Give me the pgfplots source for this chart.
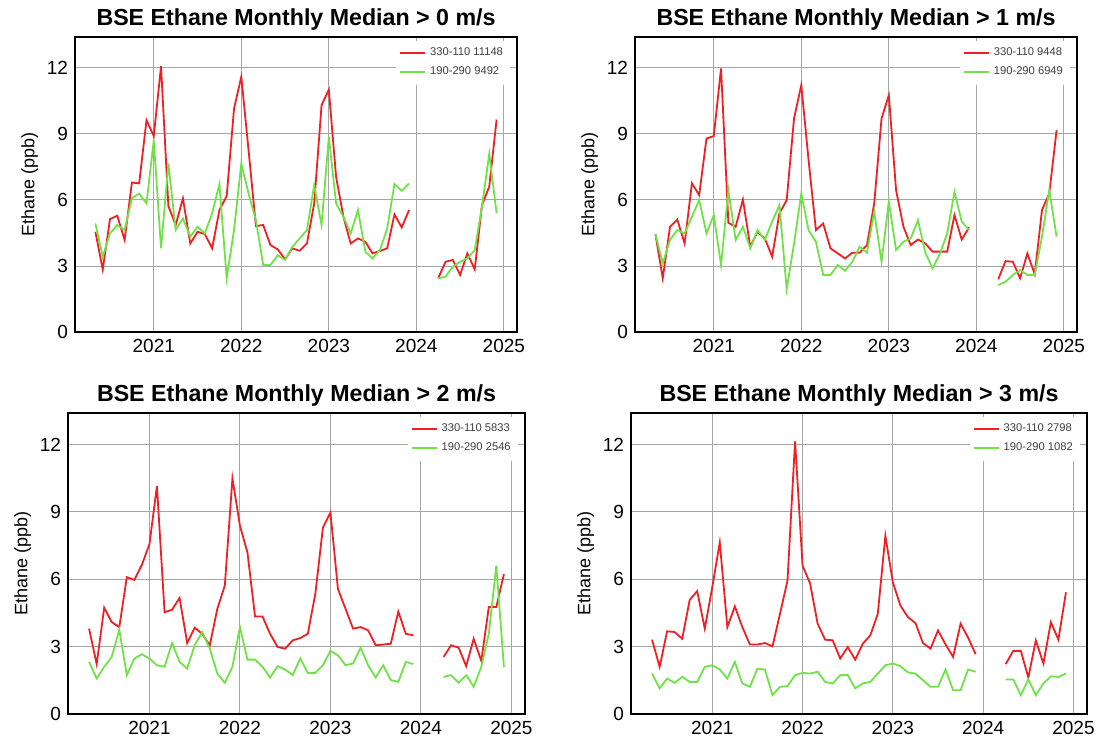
\documentclass[border=0pt]{standalone}
\usepackage{fontspec}
\setmainfont{Liberation Sans}
\usepackage{pgfplots}
\usepackage{pgfplotstable}
\pgfplotsset{compat=1.18}

\definecolor{sred}{RGB}{238,32,36}
\definecolor{sgreen}{RGB}{112,226,72}

% t = year, r = 330-110 sector, g = 190-290 sector
\pgfplotstableread{
t r g
2020.333 4.55 4.93
2020.417 2.84 3.42
2020.500 5.13 4.48
2020.583 5.28 4.86
2020.667 4.18 4.63
2020.750 6.79 6.07
2020.833 6.75 6.29
2020.917 9.62 5.84
2021.000 8.90 8.71
2021.083 12.07 3.80
2021.167 5.72 7.65
2021.250 4.86 4.63
2021.333 6.07 5.16
2021.417 4.02 4.33
2021.500 4.55 4.78
2021.583 4.45 4.48
2021.667 3.80 5.39
2021.750 5.54 6.72
2021.833 6.17 2.44
2021.917 10.15 4.63
2022.000 11.59 7.65
2022.083 8.26 6.29
2022.167 4.81 5.08
2022.250 4.86 3.04
2022.333 3.95 3.04
2022.417 3.75 3.49
2022.500 3.30 3.27
2022.583 3.80 3.87
2022.667 3.69 4.25
2022.750 4.02 4.63
2022.833 5.84 6.67
2022.917 10.30 4.86
2023.000 11.01 8.87
2023.083 7.05 5.84
2023.167 5.23 5.23
2023.250 4.02 4.48
2023.333 4.25 5.54
2023.417 4.10 3.65
2023.500 3.57 3.34
2023.583 3.68 3.72
2023.667 3.80 4.70
2023.750 5.34 6.72
2023.833 4.75 6.41
2023.917 5.54 6.75
2024.000 nan nan
2024.250 2.44 2.44
2024.333 3.19 2.51
2024.417 3.27 2.97
2024.500 2.59 3.19
2024.583 3.57 3.34
2024.667 2.84 3.72
2024.750 5.76 5.69
2024.833 6.60 8.10
2024.917 9.65 5.39
}\dataA

\pgfplotstableread{
t r g
2020.333 4.45 4.45
2020.417 2.44 3.12
2020.500 4.78 4.18
2020.583 5.11 4.63
2020.667 4.02 4.48
2020.750 6.75 5.23
2020.833 6.22 5.99
2020.917 8.79 4.48
2021.000 8.90 5.31
2021.083 11.97 3.04
2021.167 4.96 6.44
2021.250 4.78 4.18
2021.333 6.02 4.78
2021.417 3.87 3.80
2021.500 4.55 4.63
2021.583 4.25 4.18
2021.667 3.42 5.01
2021.750 5.39 5.76
2021.833 5.99 1.94
2021.917 9.70 4.02
2022.000 11.21 6.29
2022.083 7.81 4.63
2022.167 4.63 4.10
2022.250 4.93 2.59
2022.333 3.80 2.59
2022.417 3.57 3.04
2022.500 3.34 2.78
2022.583 3.60 3.19
2022.667 3.60 3.87
2022.750 3.95 3.60
2022.833 5.84 5.46
2022.917 9.70 3.19
2023.000 10.76 5.92
2023.083 6.44 3.72
2023.167 4.78 4.10
2023.250 3.95 4.25
2023.333 4.20 5.08
2023.417 4.02 3.60
2023.500 3.65 2.89
2023.583 3.65 3.54
2023.667 3.65 4.48
2023.750 5.31 6.37
2023.833 4.20 5.01
2023.917 4.75 4.63
2024.000 nan nan
2024.250 2.39 2.13
2024.333 3.22 2.28
2024.417 3.19 2.59
2024.500 2.44 2.81
2024.583 3.57 2.59
2024.667 2.63 2.59
2024.750 5.54 4.33
2024.833 6.29 6.44
2024.917 9.17 4.33
}\dataB

\pgfplotstableread{
t r g
2020.333 3.80 2.32
2020.417 2.22 1.58
2020.500 4.73 2.10
2020.583 4.09 2.54
2020.667 3.87 3.75
2020.750 6.09 1.73
2020.833 5.97 2.47
2020.917 6.65 2.66
2021.000 7.56 2.47
2021.083 10.15 2.17
2021.167 4.53 2.10
2021.250 4.64 3.16
2021.333 5.17 2.32
2021.417 3.16 2.02
2021.500 3.84 3.06
2021.583 3.57 3.65
2021.667 3.06 2.91
2021.750 4.68 1.80
2021.833 5.72 1.39
2021.917 10.49 2.10
2022.000 8.38 3.87
2022.083 7.19 2.42
2022.167 4.34 2.42
2022.250 4.34 2.10
2022.333 3.57 1.62
2022.417 2.98 2.13
2022.500 2.91 1.98
2022.583 3.28 1.73
2022.667 3.38 2.47
2022.750 3.57 1.83
2022.833 5.35 1.83
2022.917 8.30 2.17
2023.000 8.97 2.81
2023.083 5.57 2.61
2023.167 4.68 2.17
2023.250 3.80 2.25
2023.333 3.87 2.95
2023.417 3.72 2.17
2023.500 3.06 1.62
2023.583 3.09 2.17
2023.667 3.13 1.51
2023.750 4.56 1.43
2023.833 3.57 2.32
2023.917 3.50 2.22
2024.000 nan nan
2024.250 2.54 1.65
2024.333 3.06 1.73
2024.417 2.95 1.39
2024.500 2.13 1.73
2024.583 3.35 1.21
2024.667 2.36 2.10
2024.750 4.76 3.57
2024.833 4.76 6.60
2024.917 6.23 2.10
}\dataC

\pgfplotstableread{
t r g
2020.333 3.31 1.80
2020.417 2.10 1.14
2020.500 3.68 1.58
2020.583 3.65 1.39
2020.667 3.35 1.65
2020.750 5.08 1.43
2020.833 5.47 1.43
2020.917 3.80 2.10
2021.000 5.64 2.17
2021.083 7.64 1.98
2021.167 3.87 1.58
2021.250 4.79 2.32
2021.333 3.87 1.36
2021.417 3.09 1.21
2021.500 3.09 2.02
2021.583 3.16 1.98
2021.667 3.01 0.84
2021.750 4.46 1.21
2021.833 5.94 1.24
2021.917 12.14 1.73
2022.000 6.60 1.83
2022.083 5.82 1.80
2022.167 4.02 1.88
2022.250 3.31 1.43
2022.333 3.28 1.36
2022.417 2.47 1.73
2022.500 2.98 1.73
2022.583 2.42 1.14
2022.667 3.13 1.36
2022.750 3.50 1.43
2022.833 4.46 1.80
2022.917 7.93 2.17
2023.000 5.86 2.25
2023.083 4.83 2.13
2023.167 4.31 1.85
2023.250 4.05 1.80
2023.333 3.16 1.50
2023.417 2.91 1.21
2023.500 3.72 1.21
2023.583 3.10 1.98
2023.667 2.54 1.06
2023.750 4.02 1.06
2023.833 3.40 1.98
2023.917 2.66 1.88
2024.000 nan nan
2024.250 2.22 1.54
2024.333 2.81 1.54
2024.417 2.81 0.84
2024.500 1.62 1.54
2024.583 3.28 0.84
2024.667 2.25 1.36
2024.750 4.09 1.68
2024.833 3.31 1.65
2024.917 5.42 1.80
}\dataD

\pgfplotsset{
  panel/.style={
    scale only axis,
    anchor=south west,
    xmin=2020.1, xmax=2025.15, ymin=0, ymax=13.4,
    xtick={2021,2022,2023,2024,2025},
    ytick={0,3,6,9,12},
    /pgf/number format/1000 sep={},
    /pgf/number format/assume math mode=true,
    ticklabel style={font=\fontsize{9.5}{11}\selectfont},
    major tick length=0pt,
    grid=major,
    major grid style={black!35, line width=0.45pt},
    axis line style={line width=1.1pt},
    ylabel={Ethane (ppb)},
    ylabel style={font=\fontsize{9}{11}\selectfont, yshift=-2.5pt},
    title style={font=\bfseries\fontsize{11.6}{13}\selectfont, yshift=-6pt},
    legend style={draw=none, fill=white, text=black!75,
      font=\fontsize{5.6}{8.3}\selectfont,
      at={(0.985,0.988)}, anchor=north east, inner sep=1.5pt},
    legend cell align=left,
    legend image code/.code={\draw[##1, line width=1pt] (0pt,0pt) -- (12.5pt,0pt);},
    unbounded coords=jump,
    every axis plot/.append style={line width=0.9pt, mark=none},
  },
}

\begin{document}
\begin{tikzpicture}
\path[use as bounding box] (0,0) rectangle (560pt,372.5pt);

\begin{axis}[panel, at={(37.5pt,206.5pt)}, width=221pt, height=147.5pt,
  title={BSE Ethane Monthly Median > 0 m/s}]
\addplot[sred] table[x=t, y=r] {\dataA};
\addplot[sgreen] table[x=t, y=g] {\dataA};
\legend{330-110 11148, 190-290 9492}
\end{axis}

\begin{axis}[panel, at={(317.5pt,206.5pt)}, width=221pt, height=147.5pt,
  title={BSE Ethane Monthly Median > 1 m/s}]
\addplot[sred] table[x=t, y=r] {\dataB};
\addplot[sgreen] table[x=t, y=g] {\dataB};
\legend{330-110 9448, 190-290 6949}
\end{axis}

\begin{axis}[panel, at={(34pt,15.5pt)}, width=228.5pt, height=150.5pt,
  title={BSE Ethane Monthly Median > 2 m/s}]
\addplot[sred] table[x=t, y=r] {\dataC};
\addplot[sgreen] table[x=t, y=g] {\dataC};
\legend{330-110 5833, 190-290 2546}
\end{axis}

\begin{axis}[panel, at={(315.5pt,15.5pt)}, width=228pt, height=150.5pt,
  title={BSE Ethane Monthly Median > 3 m/s}]
\addplot[sred] table[x=t, y=r] {\dataD};
\addplot[sgreen] table[x=t, y=g] {\dataD};
\legend{330-110 2798, 190-290 1082}
\end{axis}
\end{tikzpicture}
\end{document}
